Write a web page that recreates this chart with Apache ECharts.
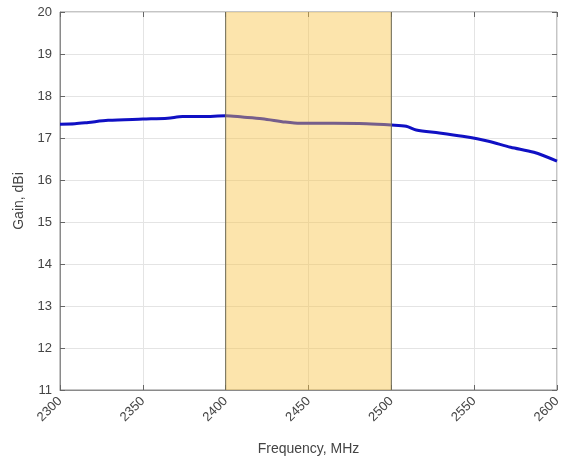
<!DOCTYPE html>
<html><head><meta charset="utf-8">
<script src="https://cdn.jsdelivr.net/npm/echarts@6/dist/echarts.min.js"></script>
<style>html,body{margin:0;padding:0;background:#fff}#c{width:574px;height:462px}</style>
</head><body><div id="c"></div>
<script>
const freq = [2300, 2309, 2317, 2329, 2350, 2365, 2374, 2386, 2400, 2410, 2422, 2436, 2445, 2454, 2465, 2485, 2500, 2509, 2515, 2529, 2543, 2558, 2572, 2586, 2600];
const gain = [17.33, 17.34, 17.37, 17.42, 17.45, 17.47, 17.51, 17.51, 17.53, 17.5, 17.46, 17.38, 17.35, 17.35, 17.35, 17.34, 17.31, 17.28, 17.19, 17.12, 17.04, 16.93, 16.78, 16.66, 16.45];
const band = [2400, 2500];
const xTicks = [2300, 2350, 2400, 2450, 2500, 2550, 2600];
const yTicks = [11, 12, 13, 14, 15, 16, 17, 18, 19, 20];

const chart = echarts.init(document.getElementById('c'), null, {renderer:'canvas'});
const font = 'Liberation Sans, Arial, sans-serif';
const tickStyle = {show:true, inside:true, length:5, lineStyle:{color:'#666'}};
chart.setOption({
  animation:false,
  grid:{left:60, right:17, top:12, bottom:72, show:true, borderColor:'#8a8a8a', borderWidth:1, backgroundColor:'transparent'},
  xAxis:[{
    type:'value', min:xTicks[0], max:xTicks[xTicks.length-1], interval:50,
    name:'Frequency, MHz', nameLocation:'middle', nameGap:52,
    nameTextStyle:{fontFamily:font, fontSize:14, color:'#444'},
    axisLine:{show:true, lineStyle:{color:'#8a8a8a'}},
    axisTick:tickStyle,
    axisLabel:{rotate:45, fontFamily:font, fontSize:13, color:'#444', margin:9, formatter:v=>String(v)},
    splitLine:{show:true, lineStyle:{color:'#e4e4e4'}}
  },{
    type:'value', position:'top', min:xTicks[0], max:xTicks[xTicks.length-1], interval:50,
    axisLine:{show:false}, axisTick:tickStyle, axisLabel:{show:false}, splitLine:{show:false}
  }],
  yAxis:[{
    type:'value', min:yTicks[0], max:yTicks[yTicks.length-1], interval:1,
    name:'Gain, dBi', nameLocation:'middle', nameGap:28,
    nameTextStyle:{fontFamily:font, fontSize:14, color:'#444'},
    axisLine:{show:true, lineStyle:{color:'#8a8a8a'}},
    axisTick:tickStyle,
    axisLabel:{fontFamily:font, fontSize:13, color:'#444', margin:8},
    splitLine:{show:true, lineStyle:{color:'#e4e4e4'}}
  },{
    type:'value', position:'right', min:yTicks[0], max:yTicks[yTicks.length-1], interval:1,
    axisLine:{show:false}, axisTick:tickStyle, axisLabel:{show:false}, splitLine:{show:false}
  }],
  series:[{
    type:'line', data:freq.map((f,i)=>[f,gain[i]]), showSymbol:false, smooth:0.3,
    lineStyle:{color:'#1010c4', width:3}, z:2
  },{
    type:'custom', z:10, silent:true,
    data:[[band[0], band[1]]],
    renderItem:function(params, api){
      const p0 = api.coord([api.value(0), yTicks[yTicks.length-1]]);
      const p1 = api.coord([api.value(1), yTicks[0]]);
      return {type:'group', children:[
        {type:'rect', shape:{x:p0[0], y:p0[1], width:p1[0]-p0[0], height:p1[1]-p0[1]},
         style:{fill:'rgba(248,194,66,0.44)'}},
        {type:'line', shape:{x1:p0[0], y1:p0[1], x2:p0[0], y2:p1[1]}, style:{stroke:'#6e6a55', lineWidth:1}},
        {type:'line', shape:{x1:p1[0], y1:p0[1], x2:p1[0], y2:p1[1]}, style:{stroke:'#6e6a55', lineWidth:1}}
      ]};
    }
  }]
});
</script></body></html>
